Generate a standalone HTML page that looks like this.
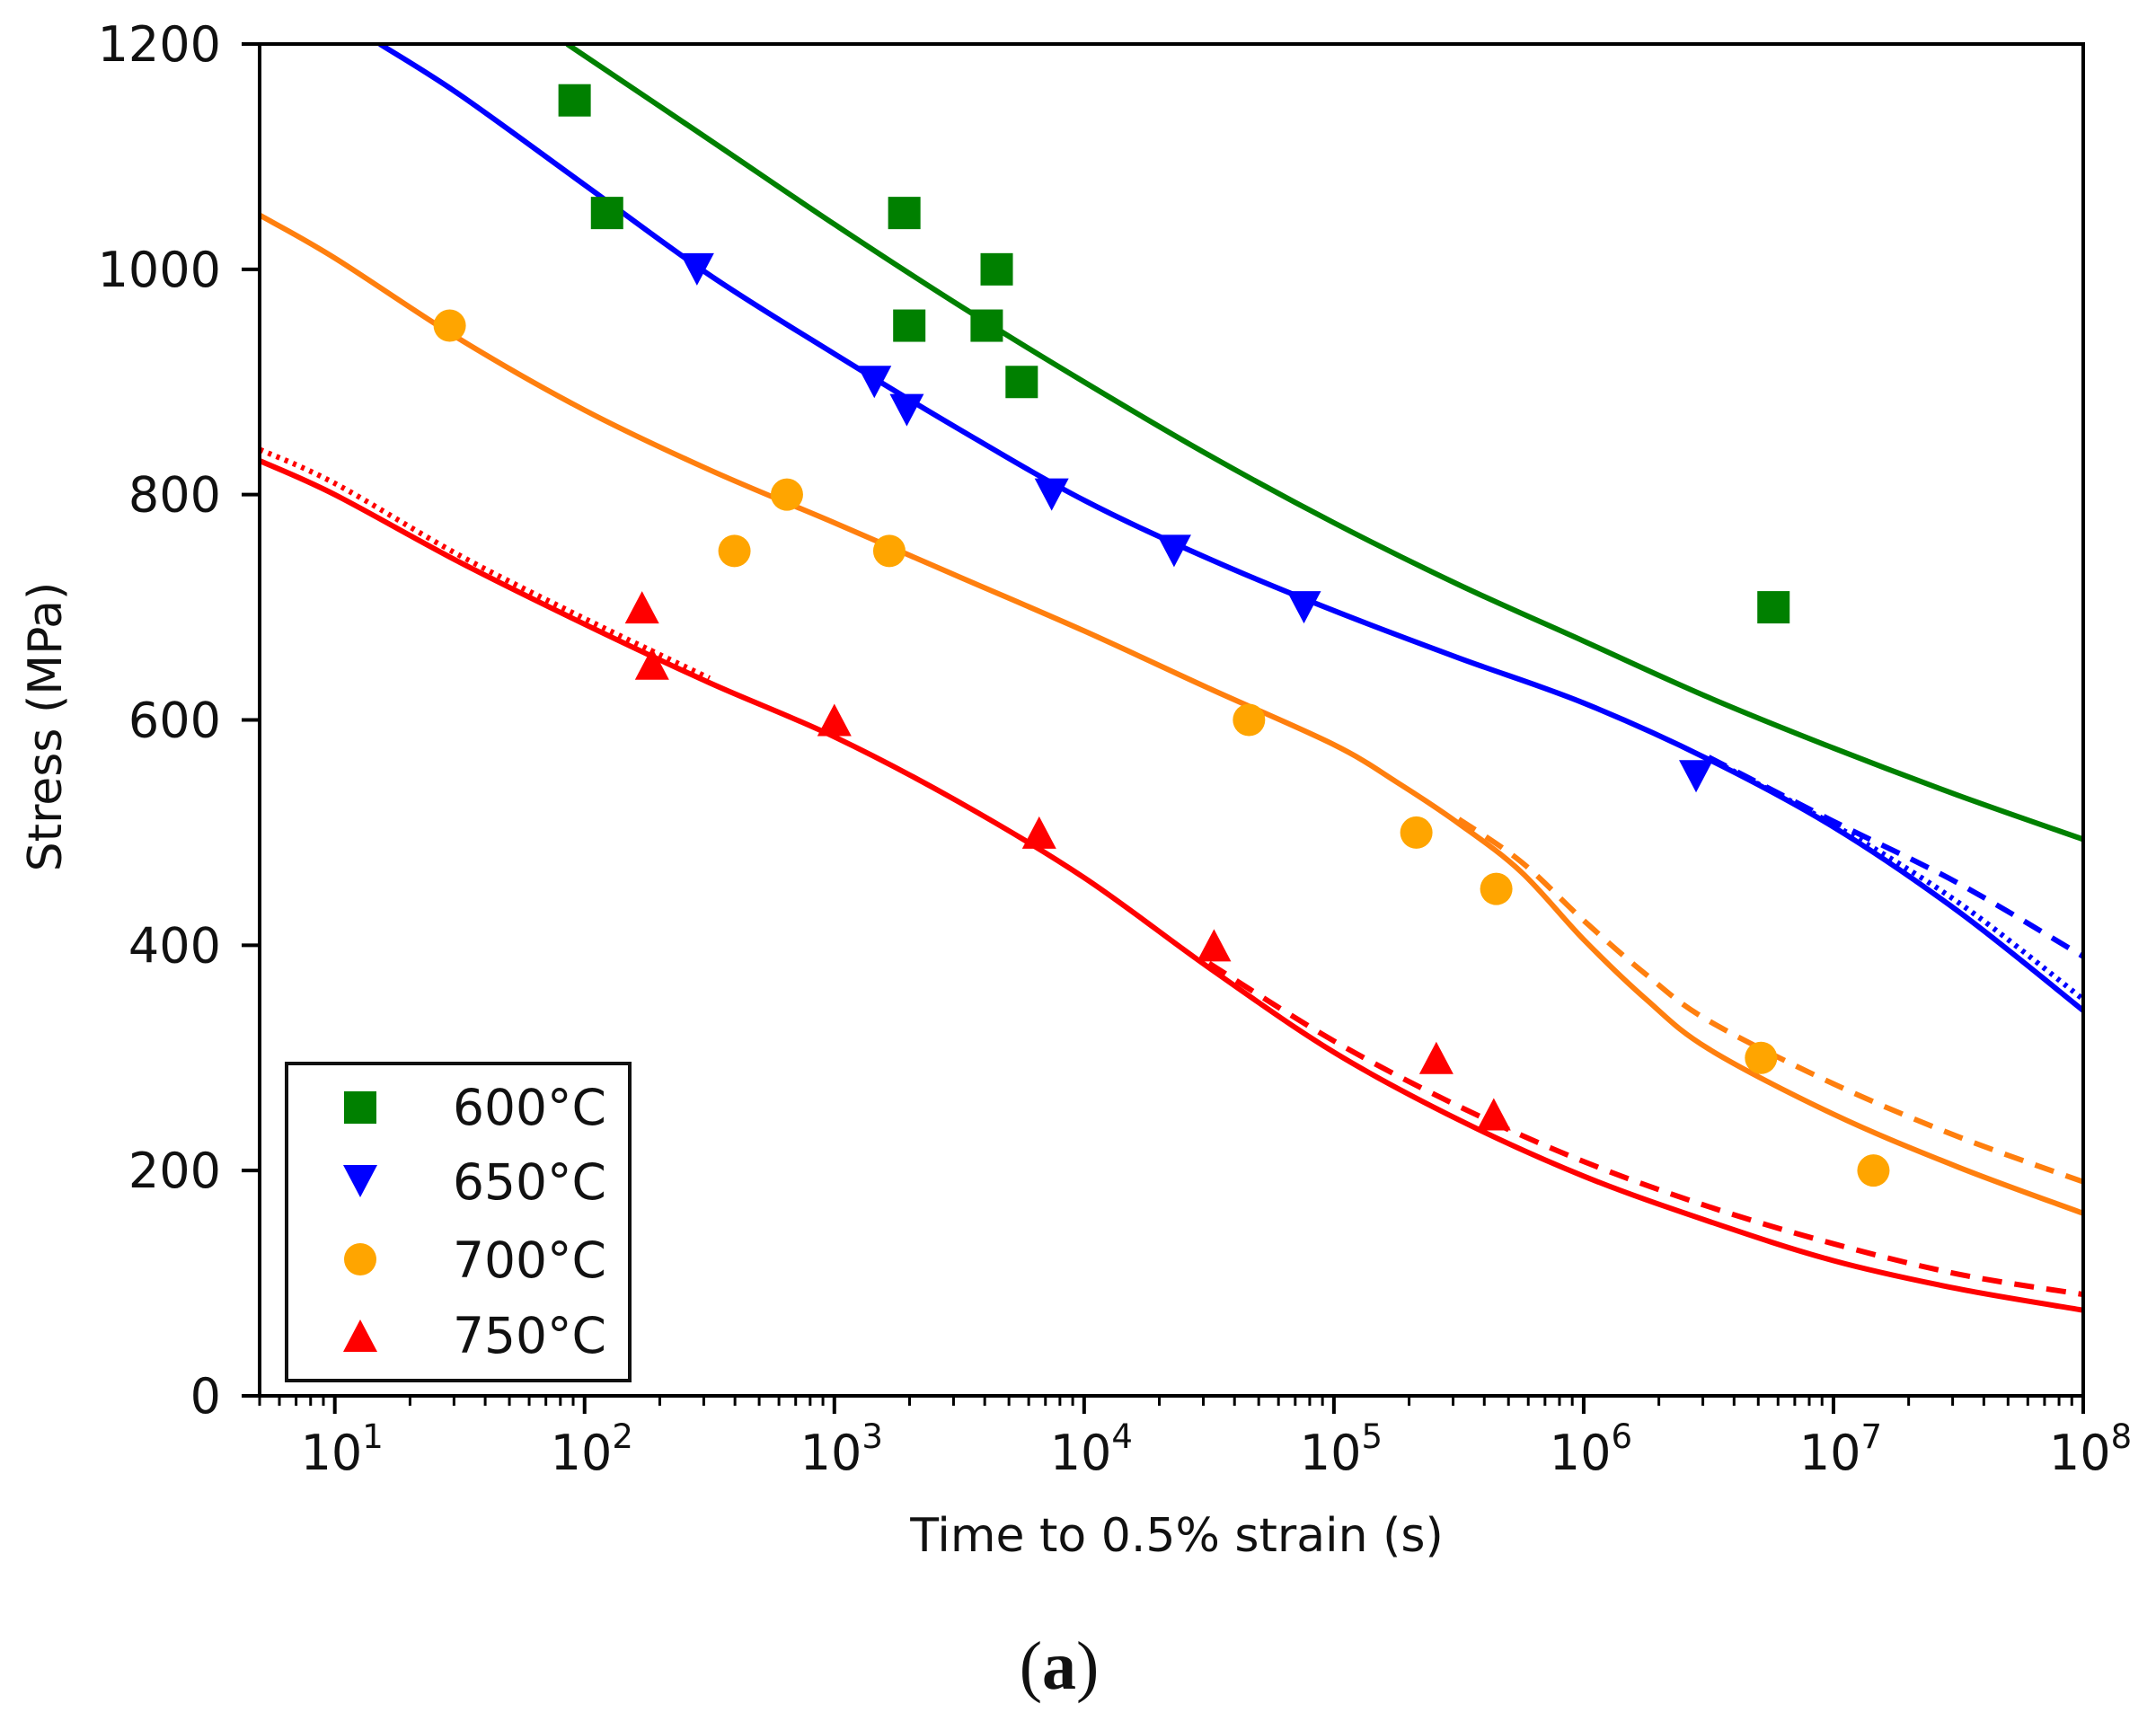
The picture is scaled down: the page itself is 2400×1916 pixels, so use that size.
<!DOCTYPE html>
<html><head><meta charset="utf-8"><style>
html,body{margin:0;padding:0;background:#fff;}
svg{display:block;font-family:"DejaVu Sans","Liberation Sans",sans-serif;}
</style></head><body>
<svg id="chart" width="2400" height="1916" viewBox="0 0 2400 1916">
<g id="plot"></g>
<g id="axes"></g>
</svg>
<script>
// ---- data ----
const yTicks = [0,200,400,600,800,1000,1200];
const xDecades = [1,2,3,4,5,6,7,8];
const temps = ["600°C","650°C","700°C","750°C"];
const colors = ["#008000","#0000ff","#ffa500","#ff0000"];
const lineColors = ["#008000","#0000ff","#ff7f0e","#ff0000"];
// fitted curves: [log10(t), stress]
const greenSolid = [[1.93,1200],[2.5,1115],[3,1040],[3.5,968],[4,900],[4.5,835],[5,775],[5.5,720],[6,670],[6.5,620],[7,575],[7.5,533],[8,494]];
const blueSolid = [[1.18,1200],[1.5,1155],[2,1075],[2.5,995],[3,925],[3.5,858],[4,795],[4.5,743],[5,697],[5.5,655],[6,615],[6.5,565],[7,505],[7.5,430],[8,342]];
const blueDashed = [[6.5,567],[7,510],[7.5,455],[8,390]];
const blueDotted = [[6.5,566],[7,507],[7.5,438],[8,352]];
const orangeSolid = [[0.7,1048],[1,1010],[1.5,938],[2,875],[2.5,822],[3,775],[3.5,727],[4,679],[4.5,628],[5,578],[5.25,545],[5.5,508],[5.75,465],[6,405],[6.25,352],[6.5,308],[7,250],[7.5,203],[8,162]];
const orangeDashed = [[5.5,512],[5.75,474],[6,422],[6.25,374],[6.5,333],[7,277],[7.5,230],[8,190]];
const redSolid = [[0.7,830],[1,800],[1.5,740],[2,685],[2.5,633],[3,585],[3.5,527],[4,460],[4.5,380],[5,305],[5.5,245],[6,195],[6.5,155],[7,120],[7.5,95],[8,76]];
const redDashed = [[4.5,384],[5,315],[5.5,257],[6,208],[6.5,168],[7,135],[7.5,108],[8,90]];
const redDotted = [[0.7,840],[1,810],[1.5,746],[2,690],[2.5,637]];
// measured points: log10(t), stress
const greenLogT = [1.96,2.09,3.28,3.30,3.61,3.65,3.75,6.76];
const greenStress = [1150,1050,1050,950,950,1000,900,700];
const blueLogT = [2.45,3.16,3.29,3.87,4.36,4.88,6.45];
const blueStress = [1000,900,875,800,750,700,550];
const orangeLogT = [1.46,2.60,2.81,3.22,4.66,5.33,5.65,6.71,7.16];
const orangeStress = [950,750,800,750,600,500,450,300,200];
const redLogT = [2.23,2.27,3.00,3.82,4.52,5.41,5.64];
const redStress = [700,650,600,500,400,300,250];

// ---- scales ----
const X0=289, X1=2319, Y0=1554, Y1=49, LMIN=Math.log10(5), LMAX=8;
const xs = l => X0 + (l-LMIN)/(LMAX-LMIN)*(X1-X0);
const ys = v => Y0 - v/1200*(Y0-Y1);
const NS="http://www.w3.org/2000/svg";
function mk(tag, attrs, parent){const e=document.createElementNS(NS,tag);for(const k in attrs)e.setAttribute(k,attrs[k]);parent.appendChild(e);return e;}
const plot=document.getElementById('plot'), axes=document.getElementById('axes'), svg=document.getElementById('chart');

const defs=mk('defs',{},svg);
const cp=mk('clipPath',{id:'clip'},defs);
mk('rect',{x:X0,y:Y1,width:X1-X0,height:Y0-Y1},cp);
plot.setAttribute('clip-path','url(#clip)');

function smooth(pts){
  const p=pts.map(d=>[xs(d[0]),ys(d[1])]);
  let s=`M${p[0][0]},${p[0][1]}`;
  for(let i=0;i<p.length-1;i++){
    const a=p[i-1]||p[i], b=p[i], c=p[i+1], d=p[i+2]||c;
    s+=` C${b[0]+(c[0]-a[0])/6},${b[1]+(c[1]-a[1])/6} ${c[0]-(d[0]-b[0])/6},${c[1]-(d[1]-b[1])/6} ${c[0]},${c[1]}`;
  }
  return s;
}
function curve(pts,color,dash,name){
  const e=mk('path',{d:smooth(pts),fill:'none',stroke:color,'stroke-width':6},plot);
  if(dash) e.setAttribute('stroke-dasharray',dash);
  
  
}
curve(greenSolid,lineColors[0],null,'fit-600-solid');
curve(blueSolid,lineColors[1],null,'fit-650-solid');
curve(blueDotted,lineColors[1],'4 6','fit-650-dotted');
curve(blueDashed,lineColors[1],'22 14','fit-650-dashed');
curve(orangeSolid,lineColors[2],null,'fit-700-solid');
curve(orangeDashed,lineColors[2],'22 14','fit-700-dashed');
curve(redSolid,lineColors[3],null,'fit-750-solid');
curve(redDotted,lineColors[3],'4 6','fit-750-dotted');
curve(redDashed,lineColors[3],'22 14','fit-750-dashed');

function marker(type,cx,cy,color,parent){
  const r=18;
  let e;
  if(type==='sq') e=mk('rect',{x:cx-r,y:cy-r,width:2*r,height:2*r,fill:color},parent);
  else if(type==='circ') e=mk('circle',{cx:cx,cy:cy,r:r,fill:color},parent);
  else if(type==='down') e=mk('polygon',{points:`${cx-r-1},${cy-r} ${cx+r+1},${cy-r} ${cx},${cy+r}`,fill:color},parent);
  else e=mk('polygon',{points:`${cx-r-1},${cy+r} ${cx+r+1},${cy+r} ${cx},${cy-r}`,fill:color},parent);
  return e;
}
const sets=[[greenLogT,greenStress,'sq',0,'600'],[blueLogT,blueStress,'down',1,'650'],[orangeLogT,orangeStress,'circ',2,'700'],[redLogT,redStress,'up',3,'750']];
sets.forEach(s=>{
  s[0].forEach((l,i)=>{
    const e=marker(s[2],xs(l),ys(s[1][i]),colors[s[3]],svg);
    
    
  });
});

// axes frame
const fr=mk('rect',{x:X0,y:Y1,width:X1-X0,height:Y0-Y1,fill:'none',stroke:'#000','stroke-width':4},axes);


// y ticks
yTicks.forEach(v=>{
  const y=ys(v);
  mk('line',{x1:X0-20,x2:X0,y1:y,y2:y,stroke:'#000','stroke-width':4},axes);
  const t=mk('text',{x:246,y:y+19,'text-anchor':'end','font-size':54,fill:'#111'},axes);
  t.textContent=v;
  
  
});
// x ticks
for(let d=0;d<8;d++){
  for(let m=1;m<10;m++){
    const l=d+Math.log10(m);
    if(l<LMIN-1e-9||l>LMAX+1e-9) continue;
    const x=xs(l);
    mk('line',{x1:x,x2:x,y1:Y0,y2:Y0+(m===1?20:11),stroke:'#000','stroke-width':m===1?4:3},axes);
  }
}
mk('line',{x1:X1,x2:X1,y1:Y0,y2:Y0+20,stroke:'#000','stroke-width':4},axes);
xDecades.forEach(d=>{
  const x=xs(d);
  const t=mk('text',{x:x+8,y:1636,'text-anchor':'middle','font-size':54,fill:'#111'},axes);
  t.innerHTML='10<tspan dy="-24" font-size="37">'+d+'</tspan>';
  
  
});
</script>
<svg style="position:absolute;left:0;top:0" width="2400" height="1916">
<text x="1310" y="1727" text-anchor="middle" font-size="52" fill="#111" font-family="DejaVu Sans, Liberation Sans, sans-serif">Time to 0.5% strain (s)</text>
<text transform="translate(68,809) rotate(-90)" text-anchor="middle" font-size="52" fill="#111" font-family="DejaVu Sans, Liberation Sans, sans-serif">Stress (MPa)</text>
<g>
<rect x="319" y="1184" width="382" height="353" fill="#fff" stroke="#111" stroke-width="4"/>
<rect x="383" y="1215" width="36" height="36" fill="#008000"/>
<polygon points="382,1297 420,1297 401,1333" fill="#0000ff"/>
<circle cx="401" cy="1402" r="18" fill="#ffa500"/>
<polygon points="382,1505 420,1505 401,1469" fill="#ff0000"/>
<g font-size="55" fill="#111" font-family="DejaVu Sans, Liberation Sans, sans-serif">
<text x="504" y="1252">600°C</text>
<text x="504" y="1335">650°C</text>
<text x="504" y="1422">700°C</text>
<text x="504" y="1506">750°C</text>
</g></g>
<text x="1179" y="1880" text-anchor="middle" font-size="76" font-family="Liberation Serif, serif" fill="#111">(<tspan font-weight="bold">a</tspan>)</text>
</svg>
</body></html>
